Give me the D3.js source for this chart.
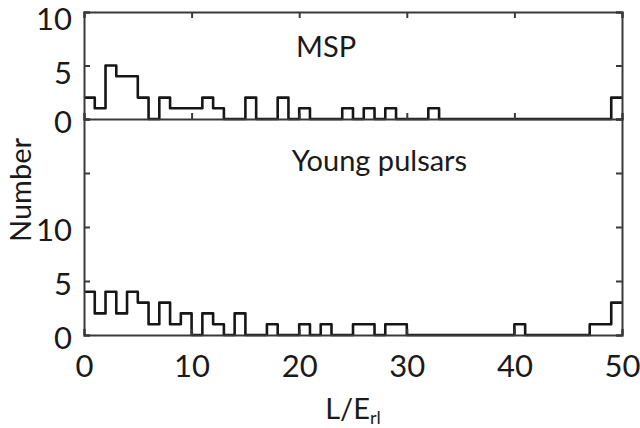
<!DOCTYPE html>
<html><head><meta charset="utf-8">
<script src="https://cdn.jsdelivr.net/npm/d3@7"></script>
<style>
body{margin:0;background:#fff;}
svg{display:block;}
text{font-family:Lato,"Open Sans",sans-serif;fill:#1a1a1a;}
</style></head>
<body><svg id="c" width="640" height="428"></svg>
<script>
// bin starts (L/E_rl), width 1
const binStarts = d3.range(0, 50, 1);
// MSP counts per bin
const mspCounts = [2,1,5,4,4,2,0,2,1,1, 1,2,1,0,0,2,0,0,2,0, 1,0,0,0,1,0,1,0,1,0, 0,0,1,0,0,0,0,0,0,0, 0,0,0,0,0,0,0,0,0,2];
// Young pulsar counts per bin
const youngCounts = [4,2,4,2,4,3,1,3,1,2, 0,2,1,0,2,0,0,1,0,0, 1,0,1,0,0,1,1,0,1,1, 0,0,0,0,0,0,0,0,0,0, 1,0,0,0,0,0,0,1,1,3];
const xTicks = [0,10,20,30,40,50];
const topYTicks = [0,5,10];
const botYTicks = [0,5,10,15];
const botYLabels = [0,5,10];
const panelNames = ["MSP","Young pulsars"];

const svg = d3.select("#c");
const L = 84, R = 622, T = 12, MID = 119, B = 335;
const x = d3.scaleLinear().domain([0,50]).range([L,R]);
const yTop = d3.scaleLinear().domain([0,10]).range([MID,T]);
const yBot = d3.scaleLinear().domain([0,20]).range([B,MID]);
const frameCol = "#3a3a3a";

function styleAxis(g){
  g.select(".domain").attr("stroke",frameCol).attr("stroke-width",2);
  g.selectAll(".tick line").attr("stroke",frameCol).attr("stroke-width",2);
  g.selectAll(".tick text").attr("font-size",31).attr("fill","#1a1a1a")
    .style("font-family","Lato, 'Open Sans', sans-serif");
}

// histogram outlines
function hist(counts, y){
  const pts = binStarts.map((b,i)=>[b, counts[i]]);
  pts.push([binStarts[binStarts.length-1]+1, counts[counts.length-1]]);
  const line = d3.line().x(d=>x(d[0])).y(d=>y(d[1])).curve(d3.curveStepAfter);
  svg.append("path").attr("d", line(pts)).attr("fill","none")
    .attr("stroke","#161616").attr("stroke-width",2.6).attr("stroke-linejoin","round");
}
hist(mspCounts, yTop);
hist(youngCounts, yBot);

// top panel axes
svg.append("g").attr("transform",`translate(0,${T})`)
  .call(d3.axisTop(x).tickValues(xTicks).tickSize(-6).tickFormat("")).call(styleAxis);
svg.append("g").attr("transform",`translate(0,${MID})`)
  .call(d3.axisBottom(x).tickValues(xTicks).tickSize(-6).tickFormat("")).call(styleAxis);
svg.append("g").attr("transform",`translate(${L},0)`)
  .call(d3.axisLeft(yTop).tickValues(topYTicks).tickSize(-6).tickPadding(12).tickFormat(d3.format("d"))).call(styleAxis)
  .selectAll(".tick text").attr("dy",d=>d===0?"0.42em":"0.58em");
svg.append("g").attr("transform",`translate(${R},0)`)
  .call(d3.axisRight(yTop).tickValues(topYTicks).tickSize(-6).tickFormat("")).call(styleAxis);

// bottom panel axes
svg.append("g").attr("transform",`translate(0,${B})`)
  .call(d3.axisBottom(x).tickValues(xTicks).tickSize(-6).tickPadding(14).tickFormat(d3.format("d"))).call(styleAxis)
  .selectAll(".tick text").attr("dy","0.9em");
svg.append("g").attr("transform",`translate(${L},0)`)
  .call(d3.axisLeft(yBot).tickValues(botYTicks).tickSize(-6).tickPadding(12)
    .tickFormat(d=>botYLabels.includes(d)?d3.format("d")(d):"")).call(styleAxis)
  .selectAll(".tick text").attr("dy","0.42em");
svg.append("g").attr("transform",`translate(${R},0)`)
  .call(d3.axisRight(yBot).tickValues(botYTicks).tickSize(-6).tickFormat("")).call(styleAxis);

// panel labels
svg.append("text").attr("x",x(19.7)).attr("y",57).attr("font-size",29).text(panelNames[0]);
svg.append("text").attr("x",x(19.3)).attr("y",171).attr("font-size",29).text(panelNames[1]);

// axis titles
svg.append("text").attr("transform","translate(31,190) rotate(-90)")
  .attr("text-anchor","middle").attr("font-size",29).text("Number");
const xt = svg.append("text").attr("x",x(25)).attr("y",419).attr("text-anchor","middle").attr("font-size",29);
xt.append("tspan").text("L/E");
xt.append("tspan").attr("font-size",18).attr("dy","0.25em").text("rl");
</script></body></html>
